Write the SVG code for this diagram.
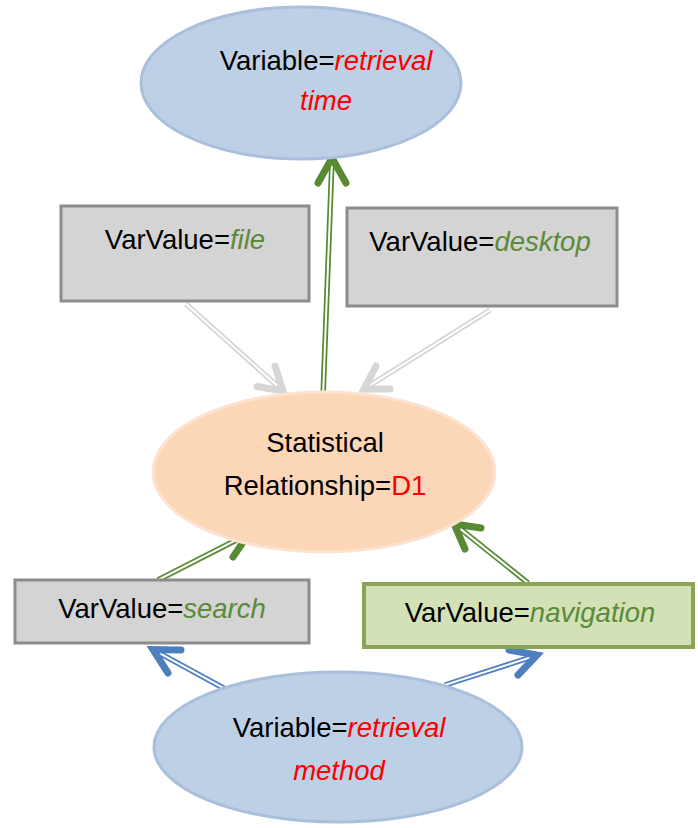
<svg xmlns="http://www.w3.org/2000/svg" width="698" height="828" viewBox="0 0 698 828">
<style>
text{font-family:"Liberation Sans",Arial,sans-serif;font-size:27.5px;fill:#000;text-anchor:middle}
.red{fill:#ff0000;font-style:italic}
.d1{fill:#ff0000}
.gv{fill:#5b8a3a;font-style:italic}
.blueell{fill:#bed0e6;stroke:#a9bfdc;stroke-width:3}
.peach{fill:#fbd6b7;stroke:#fde3cf;stroke-width:3}
.gbox{fill:#d4d4d4;stroke:#8c8c8c;stroke-width:3}
.nbox{fill:#d3e1b7;stroke:#8aa556;stroke-width:4}
.outer{fill:none;stroke-width:5.5}
.inner{fill:none;stroke:#fff;stroke-width:2}
.head{fill:none;stroke-width:7;stroke-linecap:round;stroke-linejoin:miter}
.green{stroke:#578a33}
.gray{stroke:#d6d6d6}
.blue{stroke:#4c7fbd}
</style>
<rect width="698" height="828" fill="#fff"/>
<g id="connectors">
  <g id="e-stat-time">
    <line class="outer green" x1="323" y1="397" x2="331.8" y2="165"/>
    <line class="inner" x1="323" y1="397" x2="331.8" y2="165"/>
    <polyline class="head green" points="318,183 332,158 346,183"/>
  </g>
  <g id="e-file-stat">
    <line class="outer gray" x1="186" y1="304" x2="277.8" y2="386.3"/>
    <line class="inner" x1="186" y1="304" x2="277.8" y2="386.3"/>
    <polyline class="head gray" points="257,386.5 283,391 275,366"/>
  </g>
  <g id="e-desktop-stat">
    <line class="outer gray" x1="490" y1="310" x2="369.9" y2="385.3"/>
    <line class="inner" x1="490" y1="310" x2="369.9" y2="385.3"/>
    <polyline class="head gray" points="376,366 364,389 390,389"/>
  </g>
  <g id="e-search-stat">
    <line class="outer green" x1="158" y1="580" x2="243.8" y2="536.2"/>
    <line class="inner" x1="158" y1="580" x2="243.8" y2="536.2"/>
    <polyline class="head green" points="222,533 249,533.5 233,557"/>
  </g>
  <g id="e-nav-stat">
    <line class="outer green" x1="528" y1="583" x2="458.5" y2="527.4"/>
    <line class="inner" x1="528" y1="583" x2="458.5" y2="527.4"/>
    <polyline class="head green" points="481,528 454,524 465,549"/>
  </g>
  <g id="e-method-search">
    <line class="outer blue" x1="227" y1="690" x2="158.1" y2="652.4"/>
    <line class="inner" x1="227" y1="690" x2="158.1" y2="652.4"/>
    <polyline class="head blue" points="181,650 153,649.5 168,673"/>
  </g>
  <g id="e-method-nav">
    <line class="outer blue" x1="445" y1="685" x2="531.3" y2="657.1"/>
    <line class="inner" x1="445" y1="685" x2="531.3" y2="657.1"/>
    <polyline class="head blue" points="509,650 537,655 518,675"/>
  </g>
</g>
<g id="node-time">
  <ellipse class="blueell" cx="301" cy="83" rx="160" ry="76"/>
  <text x="326" y="70">Variable=<tspan class="red">retrieval</tspan></text>
  <text x="326" y="110" class="red">time</text>
</g>
<g id="node-file">
  <rect class="gbox" x="61" y="206" width="248" height="95"/>
  <text x="185" y="249">VarValue=<tspan class="gv">file</tspan></text>
</g>
<g id="node-desktop">
  <rect class="gbox" x="347" y="208" width="270" height="98"/>
  <text x="480" y="251">VarValue=<tspan class="gv">desktop</tspan></text>
</g>
<g id="node-stat">
  <ellipse class="peach" cx="324" cy="472" rx="171" ry="80"/>
  <text x="325" y="452">Statistical</text>
  <text x="325" y="495">Relationship=<tspan class="d1">D1</tspan></text>
</g>
<g id="node-search">
  <rect class="gbox" x="15" y="580" width="294" height="63"/>
  <text x="162" y="618">VarValue=<tspan class="gv">search</tspan></text>
</g>
<g id="node-navigation">
  <rect class="nbox" x="364" y="584" width="329" height="63"/>
  <text x="530" y="622">VarValue=<tspan class="gv">navigation</tspan></text>
</g>
<g id="node-method">
  <ellipse class="blueell" cx="338" cy="747" rx="184" ry="75"/>
  <text x="339" y="737">Variable=<tspan class="red">retrieval</tspan></text>
  <text x="339" y="780" class="red">method</text>
</g>
</svg>
